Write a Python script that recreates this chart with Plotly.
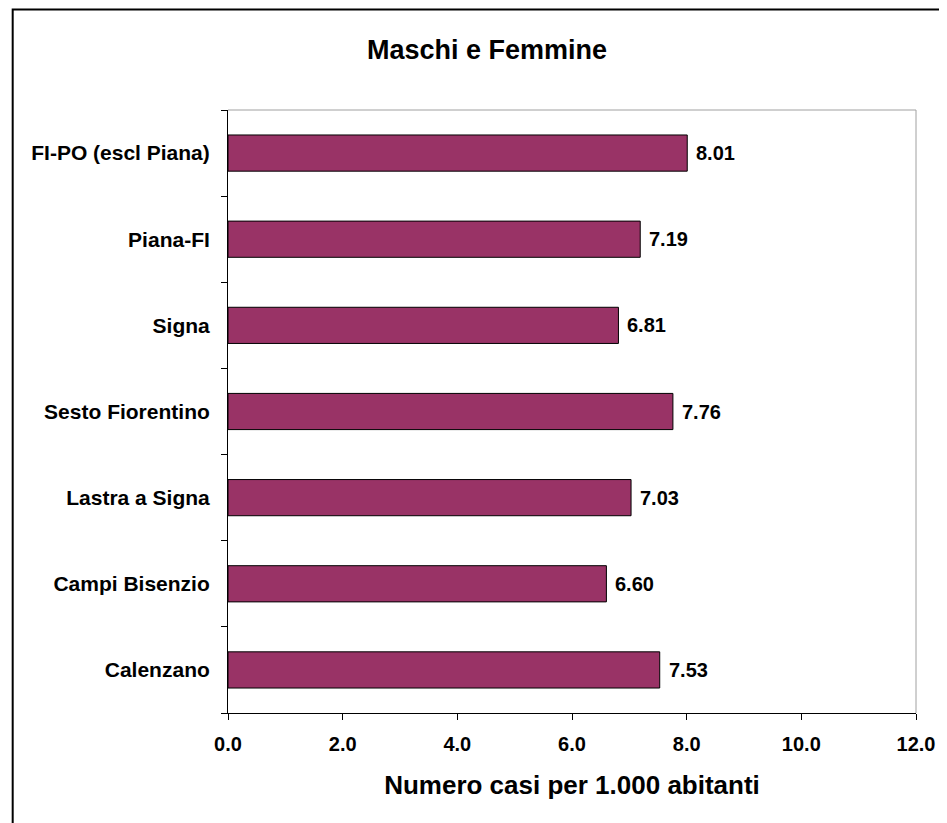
import plotly.graph_objects as go

categories = ["Calenzano", "Campi Bisenzio", "Lastra a Signa", "Sesto Fiorentino",
              "Signa", "Piana-FI", "FI-PO (escl Piana)"]
values = [7.53, 6.60, 7.03, 7.76, 6.81, 7.19, 8.01]
x_ticks = [0, 2, 4, 6, 8, 10, 12]
x_tick_labels = ["0.0", "2.0", "4.0", "6.0", "8.0", "10.0", "12.0"]

# page has an 8px body margin; work in figure coordinates
OFF = 8
W, H = 947 - OFF, 823 - OFF
L, R, T, B = 228 - OFF, 923 - OFF, 110 - OFF, 713 - OFF
FONT = "Liberation Sans, Arial, sans-serif"

fig = go.Figure(go.Bar(
    y=categories, x=values, orientation="h",
    marker=dict(color="#993366", line=dict(color="black", width=1)),
    cliponaxis=False, hoverinfo="x+y",
))

for c, v in zip(categories, values):
    fig.add_annotation(x=v, y=c, text=f"<b>{v:.2f}</b>", showarrow=False,
                       xanchor="left", yanchor="middle", xshift=7,
                       font=dict(family=FONT, size=20, color="black"))

def px_x(p):
    return (p - L) / (R - L)

def px_y(p):
    return (B - p) / (B - T)

fig.update_layout(
    width=W, height=H,
    margin=dict(l=L, r=W - R, t=T, b=H - B),
    plot_bgcolor="white", paper_bgcolor="white",
    bargap=0.58,
    showlegend=False,
    font=dict(family=FONT, color="black"),
    title=dict(text="<b>Maschi e Femmine</b>", x=479 / W, xanchor="center",
               xref="container", y=1 - 42 / H, yref="container", yanchor="middle",
               font=dict(family=FONT, size=27, color="black")),
    xaxis=dict(range=[0, 12], tickvals=x_ticks, ticktext=x_tick_labels,
               ticks="outside", ticklen=6, tickcolor="black", showgrid=False,
               zeroline=False, showline=True, linecolor="black", linewidth=1,
               tickfont=dict(family=FONT, size=20, color="black", weight="bold"),
               ticklabelstandoff=7,
               title=dict(text="<b>Numero casi per 1.000 abitanti</b>",
                          font=dict(family=FONT, size=26, color="black"), standoff=21)),
    yaxis=dict(type="category", categoryorder="array", categoryarray=categories,
               range=[-0.5, len(categories) - 0.5], tickson="boundaries",
               ticks="outside", ticklen=6, tickcolor="black", showgrid=False,
               zeroline=False, showline=True, linecolor="black", linewidth=1,
               tickfont=dict(family=FONT, size=21, color="black", weight="bold"),
               ticklabelstandoff=13),
    shapes=[
        dict(type="line", xref="paper", yref="paper", x0=0, x1=1, y0=1, y1=1,
             line=dict(color="#a0a0a0", width=1)),
        dict(type="line", xref="paper", yref="paper", x0=1, x1=1, y0=0, y1=1,
             line=dict(color="#a0a0a0", width=1)),
        dict(type="rect", xref="paper", yref="paper",
             x0=px_x(2.5), x1=px_x(W + 20), y0=px_y(H + 20), y1=px_y(1.5),
             line=dict(color="black", width=2), fillcolor="rgba(0,0,0,0)", layer="below"),
    ],
)

fig.write_html("out.html")
